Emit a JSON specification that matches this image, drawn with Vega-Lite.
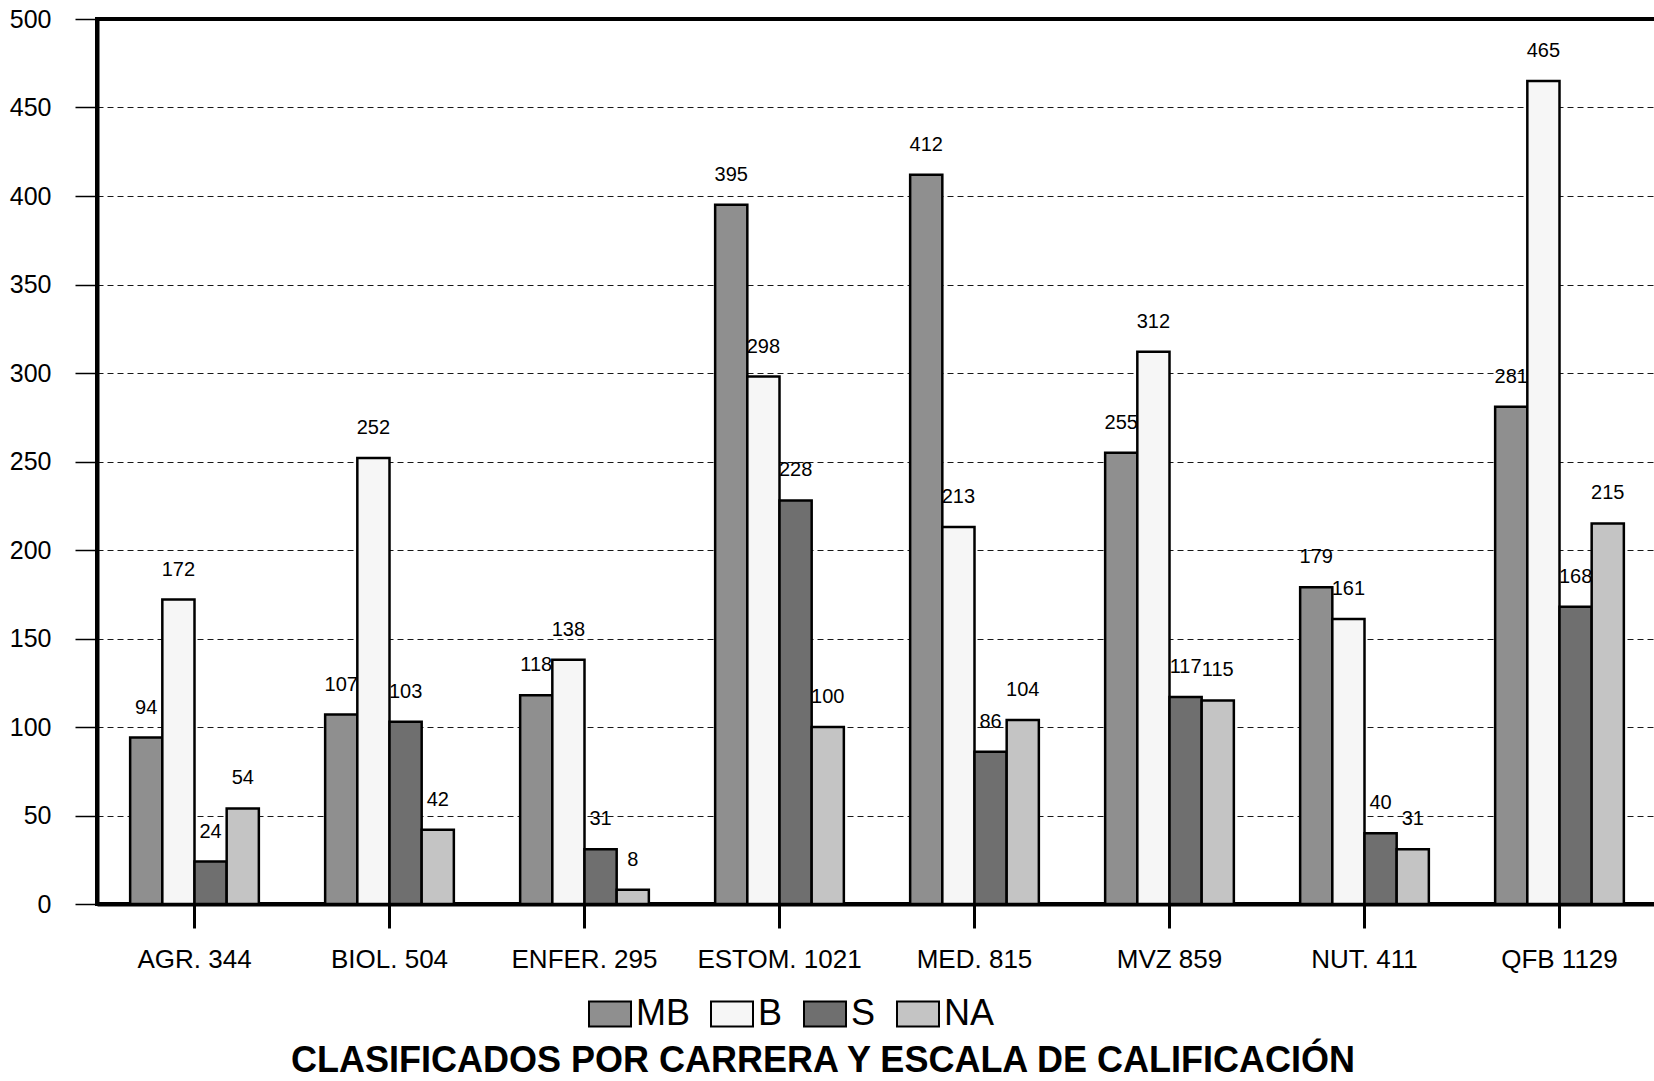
{
  "$schema": "https://vega.github.io/schema/vega-lite/v6.json",
  "autosize": {"type": "none"},
  "width": 1560,
  "height": 885,
  "padding": {"left": 97, "top": 19, "right": 0, "bottom": 177},
  "background": "white",
  "config": {
    "font": "Liberation Sans",
    "view": {"stroke": "black", "strokeWidth": 4}
  },
  "title": {
    "text": "CLASIFICADOS POR CARRERA Y ESCALA DE CALIFICACIÓN",
    "orient": "bottom",
    "anchor": "middle",
    "dx": -54,
    "offset": 12,
    "fontSize": 36,
    "fontWeight": "bold",
    "font": "Liberation Sans",
    "color": "black"
  },
  "data": {
    "values": [
      {"carrera": "AGR. 344", "escala": "MB", "n": 94},
      {"carrera": "AGR. 344", "escala": "B", "n": 172},
      {"carrera": "AGR. 344", "escala": "S", "n": 24},
      {"carrera": "AGR. 344", "escala": "NA", "n": 54},
      {"carrera": "BIOL. 504", "escala": "MB", "n": 107},
      {"carrera": "BIOL. 504", "escala": "B", "n": 252},
      {"carrera": "BIOL. 504", "escala": "S", "n": 103},
      {"carrera": "BIOL. 504", "escala": "NA", "n": 42},
      {"carrera": "ENFER. 295", "escala": "MB", "n": 118},
      {"carrera": "ENFER. 295", "escala": "B", "n": 138},
      {"carrera": "ENFER. 295", "escala": "S", "n": 31},
      {"carrera": "ENFER. 295", "escala": "NA", "n": 8},
      {"carrera": "ESTOM. 1021", "escala": "MB", "n": 395},
      {"carrera": "ESTOM. 1021", "escala": "B", "n": 298},
      {"carrera": "ESTOM. 1021", "escala": "S", "n": 228},
      {"carrera": "ESTOM. 1021", "escala": "NA", "n": 100},
      {"carrera": "MED. 815", "escala": "MB", "n": 412},
      {"carrera": "MED. 815", "escala": "B", "n": 213},
      {"carrera": "MED. 815", "escala": "S", "n": 86},
      {"carrera": "MED. 815", "escala": "NA", "n": 104},
      {"carrera": "MVZ 859", "escala": "MB", "n": 255},
      {"carrera": "MVZ 859", "escala": "B", "n": 312},
      {"carrera": "MVZ 859", "escala": "S", "n": 117},
      {"carrera": "MVZ 859", "escala": "NA", "n": 115},
      {"carrera": "NUT. 411", "escala": "MB", "n": 179},
      {"carrera": "NUT. 411", "escala": "B", "n": 161},
      {"carrera": "NUT. 411", "escala": "S", "n": 40},
      {"carrera": "NUT. 411", "escala": "NA", "n": 31},
      {"carrera": "QFB 1129", "escala": "MB", "n": 281},
      {"carrera": "QFB 1129", "escala": "B", "n": 465},
      {"carrera": "QFB 1129", "escala": "S", "n": 168},
      {"carrera": "QFB 1129", "escala": "NA", "n": 215}
    ]
  },
  "encoding": {
    "x": {
      "field": "carrera", "type": "nominal", "sort": null,
      "scale": {"paddingInner": 0.34, "paddingOuter": 0.17},
      "axis": {
        "title": null, "labelAngle": 0, "labelFontSize": 26, "labelColor": "black",
        "labelFont": "Liberation Sans",
        "domainColor": "black", "domainWidth": 4,
        "tickColor": "black", "tickWidth": 3, "tickSize": 24, "labelPadding": 18
      }
    },
    "xOffset": {"field": "escala", "type": "nominal", "sort": ["MB", "B", "S", "NA"]},
    "y": {
      "field": "n", "type": "quantitative",
      "scale": {"domain": [0, 500], "nice": false},
      "axis": {
        "title": null, "values": [0, 50, 100, 150, 200, 250, 300, 350, 400, 450, 500],
        "labelFontSize": 25, "labelColor": "black", "labelFont": "Liberation Sans",
        "labelPadding": 24, "tickSize": 22, "tickColor": "black", "tickWidth": 1.5,
        "domainColor": "black", "domainWidth": 4,
        "grid": true, "gridColor": "black", "gridDash": [6, 4], "gridWidth": 1, "gridOpacity": 0.9
      }
    }
  },
  "layer": [
    {
      "mark": {"type": "bar", "stroke": "black", "strokeWidth": 2.5},
      "encoding": {
        "fill": {
          "field": "escala", "type": "nominal", "sort": ["MB", "B", "S", "NA"],
          "scale": {"domain": ["MB", "B", "S", "NA"], "range": ["#8f8f8f", "#f6f6f6", "#6f6f6f", "#c4c4c4"]},
          "legend": {
            "title": null, "orient": "none", "direction": "horizontal",
            "legendX": 491, "legendY": 973,
            "symbolType": "M-1,-0.6H1V0.6H-1Z", "symbolSize": 1764,
            "symbolStrokeColor": "black", "symbolStrokeWidth": 2,
            "labelFontSize": 36, "labelColor": "black", "labelFont": "Liberation Sans",
            "columnPadding": 17, "labelOffset": 4
          }
        }
      }
    },
    {
      "mark": {"type": "text", "dy": -30, "fontSize": 20, "color": "black", "font": "Liberation Sans"},
      "encoding": {"text": {"field": "n", "type": "quantitative"}}
    }
  ]
}
